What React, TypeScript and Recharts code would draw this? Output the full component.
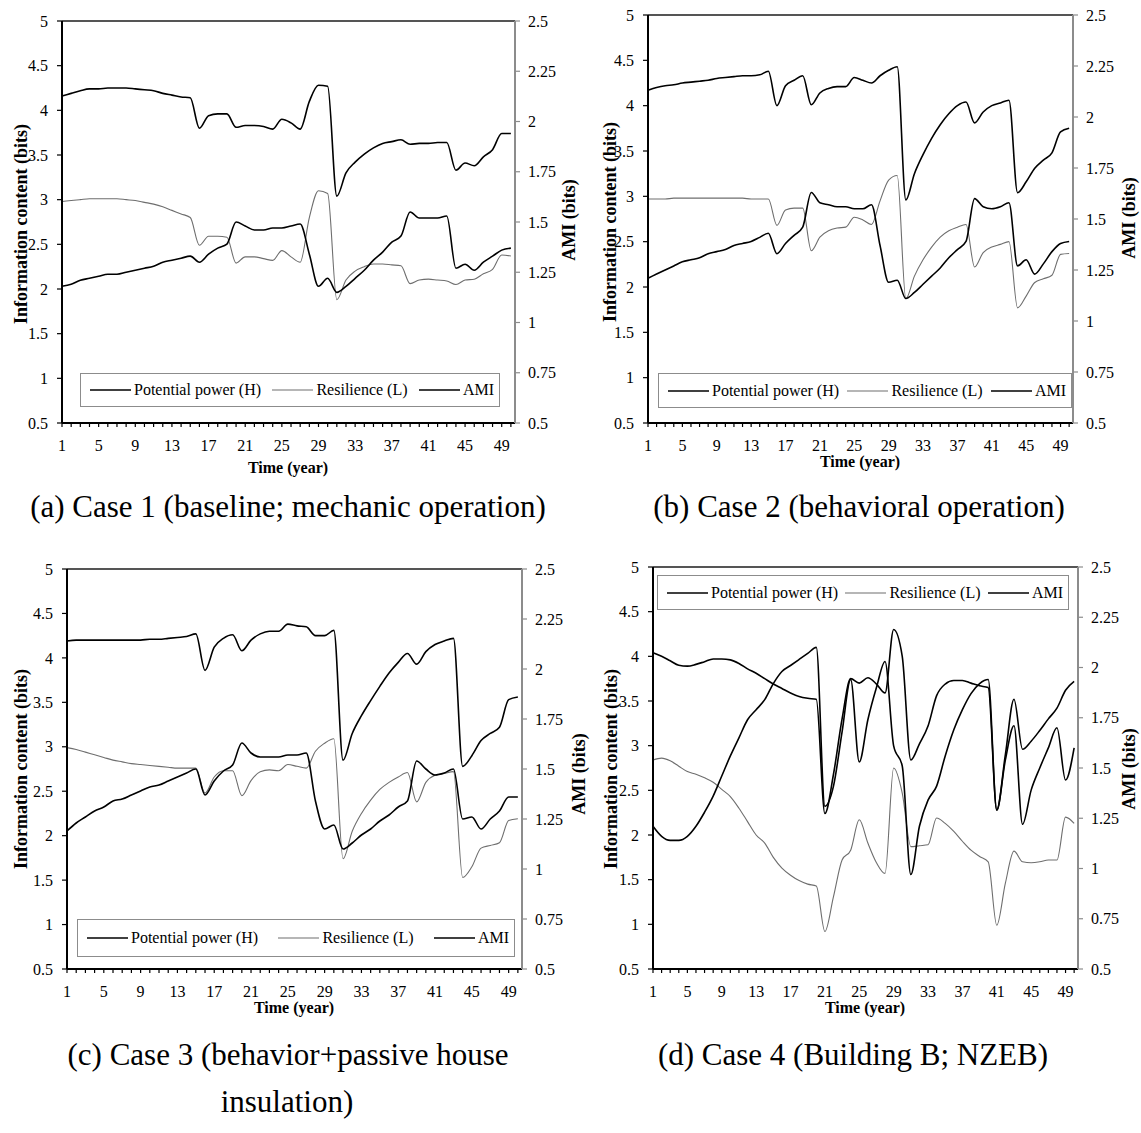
import { LineChart, Line, XAxis, YAxis, Legend, ReferenceLine } from 'recharts';

// time axis (years) and tick labels
const years = [
  1, 2, 3, 4, 5, 6, 7, 8, 9, 10, 11, 12, 13, 14, 15, 16, 17, 18, 19, 20, 21, 22, 23, 24, 25,
  26, 27, 28, 29, 30, 31, 32, 33, 34, 35, 36, 37, 38, 39, 40, 41, 42, 43, 44, 45, 46, 47, 48, 49, 50,
];
const yearLabels = [1, 5, 9, 13, 17, 21, 25, 29, 33, 37, 41, 45, 49];
const infoTicks = [0.5, 1, 1.5, 2, 2.5, 3, 3.5, 4, 4.5, 5];
const amiTicks = [0.5, 0.75, 1, 1.25, 1.5, 1.75, 2, 2.25, 2.5];

const seriesNames = ['Potential power (H)', 'Resilience (L)', 'AMI'];
const seriesColors = ['#000000', '#6e6e6e', '#000000'];

// (a) Case 1
const hA = [4.16, 4.19, 4.22, 4.24, 4.24, 4.25, 4.25, 4.25, 4.24, 4.23, 4.22, 4.19, 4.17, 4.15, 4.14, 3.80, 3.94, 3.96, 3.96, 3.81, 3.83, 3.83, 3.82, 3.79, 3.90, 3.86, 3.79, 4.10, 4.28, 4.27, 3.04, 3.30, 3.42, 3.51, 3.58, 3.63, 3.65, 3.67, 3.62, 3.63, 3.63, 3.64, 3.64, 3.33, 3.41, 3.38, 3.48, 3.56, 3.74, 3.74];
const lA = [2.98, 2.99, 3.00, 3.01, 3.01, 3.01, 3.01, 3.00, 2.99, 2.97, 2.95, 2.92, 2.88, 2.84, 2.80, 2.49, 2.59, 2.59, 2.58, 2.29, 2.36, 2.36, 2.34, 2.32, 2.43, 2.36, 2.30, 2.80, 3.10, 3.07, 1.88, 2.10, 2.20, 2.25, 2.28, 2.28, 2.27, 2.26, 2.06, 2.10, 2.11, 2.10, 2.09, 2.05, 2.10, 2.11, 2.17, 2.22, 2.38, 2.37];
const amiA = [1.18, 1.19, 1.21, 1.22, 1.23, 1.24, 1.24, 1.25, 1.26, 1.27, 1.28, 1.30, 1.31, 1.32, 1.33, 1.30, 1.34, 1.37, 1.39, 1.50, 1.48, 1.46, 1.46, 1.47, 1.47, 1.48, 1.49, 1.34, 1.18, 1.22, 1.15, 1.18, 1.22, 1.26, 1.31, 1.35, 1.40, 1.43, 1.55, 1.52, 1.52, 1.52, 1.53, 1.27, 1.29, 1.26, 1.30, 1.33, 1.36, 1.37];

// (b) Case 2
const hB = [4.17, 4.20, 4.22, 4.23, 4.25, 4.26, 4.27, 4.28, 4.30, 4.31, 4.32, 4.33, 4.33, 4.34, 4.38, 4.00, 4.22, 4.28, 4.33, 4.01, 4.14, 4.19, 4.21, 4.21, 4.31, 4.28, 4.25, 4.33, 4.39, 4.43, 2.96, 3.25, 3.46, 3.64, 3.79, 3.91, 4.00, 4.04, 3.81, 3.93, 4.00, 4.03, 4.06, 3.04, 3.16, 3.31, 3.40, 3.48, 3.71, 3.75];
const lB = [2.97, 2.97, 2.97, 2.98, 2.98, 2.98, 2.98, 2.98, 2.98, 2.98, 2.98, 2.98, 2.97, 2.97, 2.97, 2.68, 2.85, 2.87, 2.87, 2.40, 2.55, 2.62, 2.65, 2.66, 2.77, 2.74, 2.69, 2.95, 3.18, 3.23, 1.87, 2.12, 2.30, 2.44, 2.55, 2.62, 2.66, 2.69, 2.22, 2.38, 2.44, 2.47, 2.50, 1.77, 1.90, 2.05, 2.09, 2.13, 2.36, 2.37];
const amiB = [1.21, 1.23, 1.25, 1.27, 1.29, 1.30, 1.31, 1.33, 1.34, 1.35, 1.37, 1.38, 1.39, 1.41, 1.43, 1.33, 1.38, 1.42, 1.46, 1.63, 1.58, 1.57, 1.56, 1.56, 1.55, 1.55, 1.57, 1.37, 1.19, 1.20, 1.11, 1.14, 1.18, 1.22, 1.26, 1.31, 1.35, 1.39, 1.60, 1.56, 1.55, 1.56, 1.58, 1.27, 1.30, 1.23, 1.28, 1.34, 1.38, 1.39];

// (c) Case 3
const hC = [4.19, 4.20, 4.20, 4.20, 4.20, 4.20, 4.20, 4.20, 4.20, 4.21, 4.21, 4.22, 4.23, 4.24, 4.27, 3.86, 4.12, 4.22, 4.26, 4.08, 4.20, 4.27, 4.30, 4.30, 4.38, 4.36, 4.35, 4.25, 4.25, 4.31, 2.85, 3.15, 3.35, 3.52, 3.68, 3.83, 3.95, 4.05, 3.93, 4.07, 4.15, 4.19, 4.22, 2.78, 2.90, 3.07, 3.15, 3.22, 3.53, 3.56];
const lC = [2.99, 2.97, 2.94, 2.91, 2.88, 2.85, 2.83, 2.81, 2.80, 2.79, 2.78, 2.77, 2.76, 2.76, 2.76, 2.48, 2.66, 2.73, 2.73, 2.45, 2.62, 2.72, 2.74, 2.73, 2.80, 2.78, 2.76, 2.95, 3.04, 3.09, 1.74, 2.05, 2.25, 2.40, 2.52, 2.60, 2.66, 2.71, 2.38, 2.60, 2.68, 2.70, 2.72, 1.53, 1.65, 1.86, 1.89, 1.92, 2.17, 2.19];
const amiC = [1.19, 1.23, 1.26, 1.29, 1.31, 1.34, 1.35, 1.37, 1.39, 1.41, 1.42, 1.44, 1.46, 1.48, 1.50, 1.37, 1.44, 1.49, 1.52, 1.63, 1.58, 1.56, 1.56, 1.56, 1.57, 1.57, 1.58, 1.34, 1.20, 1.22, 1.10, 1.13, 1.17, 1.20, 1.24, 1.27, 1.31, 1.34, 1.54, 1.50, 1.47, 1.48, 1.50, 1.25, 1.26, 1.20, 1.25, 1.29, 1.36, 1.36];

// (d) Case 4
const hD = [4.04, 4.00, 3.95, 3.90, 3.89, 3.91, 3.94, 3.97, 3.97, 3.96, 3.92, 3.86, 3.81, 3.75, 3.69, 3.64, 3.59, 3.55, 3.53, 3.52, 2.24, 2.68, 3.30, 3.75, 3.70, 3.76, 3.69, 3.59, 4.30, 4.00, 2.84, 3.02, 3.22, 3.56, 3.69, 3.73, 3.73, 3.70, 3.67, 3.65, 2.28, 2.90, 3.52, 2.96, 3.05, 3.17, 3.30, 3.42, 3.62, 3.72];
const lD = [2.84, 2.86, 2.83, 2.77, 2.71, 2.68, 2.64, 2.59, 2.51, 2.43, 2.30, 2.15, 2.00, 1.91, 1.75, 1.63, 1.55, 1.49, 1.45, 1.43, 0.92, 1.31, 1.72, 1.83, 2.17, 1.91, 1.69, 1.57, 2.75, 2.47, 1.87, 1.88, 1.89, 2.19, 2.13, 2.04, 1.93, 1.83, 1.76, 1.70, 0.99, 1.46, 1.82, 1.70, 1.69, 1.70, 1.72, 1.72, 2.20, 2.13];
const amiD = [1.21, 1.16, 1.14, 1.14, 1.16, 1.21, 1.28, 1.36, 1.46, 1.56, 1.65, 1.74, 1.79, 1.84, 1.92, 1.98, 2.01, 2.04, 2.07, 2.10, 1.31, 1.41, 1.68, 1.94, 1.53, 1.74, 1.90, 2.03, 1.61, 1.51, 0.97, 1.21, 1.34, 1.41, 1.56, 1.69, 1.79, 1.87, 1.92, 1.94, 1.29, 1.54, 1.71, 1.22, 1.39, 1.50, 1.60, 1.70, 1.44, 1.60];

type Panel = {
  h: number[];
  l: number[];
  ami: number[];
  left: number;
  top: number;
  width: number;
  marginTop: number;
  marginBottom: number;
  leftW: number;
  rightW: number;
  legend: { left: number; top: number; width: number; height: number };
};

const panels: Panel[] = [
  { h: hA, l: lA, ami: amiA, left: 0, top: 0, width: 570, marginTop: 21, marginBottom: 27, leftW: 62, rightW: 55, legend: { left: 80, top: 373, width: 420, height: 34 } },
  { h: hB, l: lB, ami: amiB, left: 570, top: 0, width: 571, marginTop: 15, marginBottom: 27, leftW: 78, rightW: 68, legend: { left: 88, top: 373, width: 414, height: 35 } },
  { h: hC, l: lC, ami: amiC, left: 0, top: 555, width: 570, marginTop: 14, marginBottom: 36, leftW: 67, rightW: 48, legend: { left: 77, top: 364, width: 438, height: 38 } },
  { h: hD, l: lD, ami: amiD, left: 570, top: 555, width: 571, marginTop: 12, marginBottom: 36, leftW: 83, rightW: 63, legend: { left: 87, top: 20, width: 412, height: 35 } },
];

const FONT = '"Liberation Serif", "Times New Roman", serif';

function YearTick(props: any) {
  const { x, y, payload } = props;
  if (!yearLabels.includes(payload.value)) return null;
  return (
    <text x={x} y={y} dy="0.71em" textAnchor="middle" fontSize={16} fill="#000" fontFamily={FONT}>
      {payload.value}
    </text>
  );
}

function LegendBox() {
  return (
    <div
      style={{
        boxSizing: 'border-box',
        width: '100%',
        height: '100%',
        border: '1.5px solid #8c8c8c',
        background: '#fff',
        display: 'flex',
        alignItems: 'center',
        justifyContent: 'space-between',
        padding: '0 5px 0 9px',
        fontFamily: FONT,
        fontSize: 16,
        color: '#000',
      }}
    >
      {seriesNames.map((name, i) => (
        <div key={name} style={{ display: 'flex', alignItems: 'center' }}>
          <svg width={41} height={4} style={{ marginRight: 3 }}>
            <line x1={0} y1={2} x2={41} y2={2} stroke={seriesColors[i]} strokeWidth={i === 1 ? 1.2 : 1.6} />
          </svg>
          <span>{name}</span>
        </div>
      ))}
    </div>
  );
}

function PanelChart({ p }: { p: Panel }) {
  const data = years.map((t, i) => ({ t, H: p.h[i], L: p.l[i], AMI: p.ami[i] }));
  return (
    <div style={{ position: 'absolute', left: p.left, top: p.top }}>
      <LineChart
        width={p.width}
        height={480}
        data={data}
        margin={{ top: p.marginTop, right: 0, bottom: p.marginBottom, left: 0 }}
        style={{ fontFamily: FONT }}
      >
        <XAxis
          dataKey="t"
          type="number"
          domain={[1, 50.45]}
          ticks={years}
          interval={0}
          height={30}
          tickSize={4}
          tickMargin={13}
          tick={<YearTick />}
          axisLine={{ stroke: '#000', strokeWidth: 2 }}
          tickLine={{ stroke: '#000', strokeWidth: 1.2 }}
        />
        <YAxis
          yAxisId="left"
          domain={[0.5, 5]}
          ticks={infoTicks}
          interval={0}
          width={p.leftW}
          tickSize={5}
          tickMargin={9}
          tick={{ fontSize: 16, fill: '#000' }}
          axisLine={{ stroke: '#000', strokeWidth: 2 }}
          tickLine={{ stroke: '#000', strokeWidth: 1.2 }}
        />
        <YAxis
          yAxisId="right"
          orientation="right"
          domain={[0.5, 2.5]}
          ticks={amiTicks}
          interval={0}
          width={p.rightW}
          tickSize={5}
          tickMargin={8}
          tick={{ fontSize: 16, fill: '#000', textAnchor: 'start' }}
          axisLine={{ stroke: '#8c8c8c', strokeWidth: 2 }}
          tickLine={{ stroke: '#8c8c8c', strokeWidth: 1.2 }}
        />
        <ReferenceLine yAxisId="left" y={5} stroke="#555" strokeWidth={2} />
        <Legend
          layout="horizontal"
          verticalAlign="middle"
          align="center"
          wrapperStyle={{ ...p.legend, position: 'absolute' }}
          content={() => <LegendBox />}
        />
        <Line yAxisId="left" type="monotone" dataKey="H" name={seriesNames[0]} stroke={seriesColors[0]} strokeWidth={1.6} dot={false} isAnimationActive={false} />
        <Line yAxisId="left" type="monotone" dataKey="L" name={seriesNames[1]} stroke={seriesColors[1]} strokeWidth={1.1} dot={false} isAnimationActive={false} />
        <Line yAxisId="right" type="monotone" dataKey="AMI" name={seriesNames[2]} stroke={seriesColors[2]} strokeWidth={1.6} dot={false} isAnimationActive={false} />
      </LineChart>
    </div>
  );
}

function VTitle({ cx, cy, text }: { cx: number; cy: number; text: string }) {
  return (
    <div
      style={{
        position: 'absolute',
        left: cx - 150,
        top: cy - 11,
        width: 300,
        height: 22,
        lineHeight: '22px',
        textAlign: 'center',
        transform: 'rotate(-90deg)',
        fontWeight: 'bold',
        fontSize: 18,
        whiteSpace: 'nowrap',
      }}
    >
      {text}
    </div>
  );
}

function HText({ cx, cy, text, size, bold }: { cx: number; cy: number; text: string; size: number; bold?: boolean }) {
  return (
    <div
      style={{
        position: 'absolute',
        left: cx - 300,
        top: cy - size * 0.6,
        width: 600,
        lineHeight: `${size * 1.2}px`,
        textAlign: 'center',
        fontSize: size,
        fontWeight: bold ? 'bold' : 'normal',
        whiteSpace: 'nowrap',
      }}
    >
      {text}
    </div>
  );
}

export default function App() {
  return (
    <div
      style={{
        position: 'absolute',
        left: 0,
        top: 0,
        width: 1141,
        height: 1133,
        background: '#fff',
        fontFamily: FONT,
        color: '#000',
        overflow: 'hidden',
      }}
    >
      {panels.map((p, i) => (
        <PanelChart key={i} p={p} />
      ))}

      <VTitle cx={21} cy={224} text="Information content (bits)" />
      <VTitle cx={569} cy={220} text="AMI (bits)" />
      <VTitle cx={610} cy={222} text="Information content (bits)" />
      <VTitle cx={1129} cy={218} text="AMI (bits)" />
      <VTitle cx={21} cy={769} text="Information content (bits)" />
      <VTitle cx={579} cy={774} text="AMI (bits)" />
      <VTitle cx={611} cy={769} text="Information content (bits)" />
      <VTitle cx={1129} cy={769} text="AMI (bits)" />

      <HText cx={288} cy={468} text="Time (year)" size={16} bold />
      <HText cx={860} cy={462} text="Time (year)" size={16} bold />
      <HText cx={294} cy={1008} text="Time (year)" size={16} bold />
      <HText cx={865} cy={1008} text="Time (year)" size={16} bold />

      <HText cx={288} cy={507} text="(a) Case 1 (baseline; mechanic operation)" size={31} />
      <HText cx={859} cy={507} text="(b) Case 2 (behavioral operation)" size={31} />
      <HText cx={288} cy={1055} text="(c) Case 3 (behavior+passive house" size={31} />
      <HText cx={287} cy={1102} text="insulation)" size={31} />
      <HText cx={853} cy={1055} text="(d) Case 4 (Building B; NZEB)" size={31} />
    </div>
  );
}
